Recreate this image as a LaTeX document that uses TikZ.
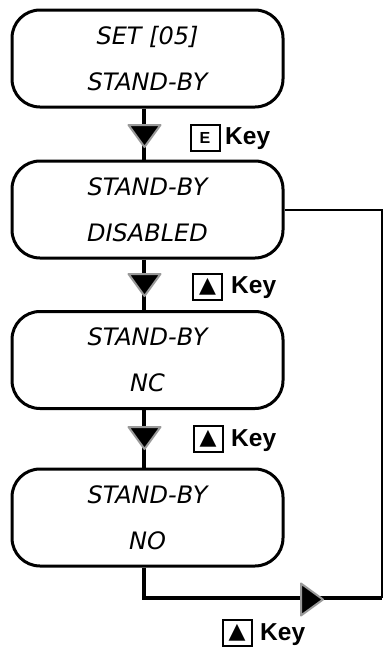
\documentclass[tikz,border=0pt]{standalone}
\usepackage{fontspec}
\setmainfont{Liberation Sans}
\newfontfamily\lcdfont{DejaVu Sans}
\newfontfamily\symfont{DejaVu Sans}
\begin{document}
\begin{tikzpicture}[x=1pt,y=-1pt,
  lcdbox/.style={draw, line width=3pt, rounded corners=28pt, minimum width=271pt, minimum height=97pt,
    align=center, inner sep=0pt, font=\lcdfont\itshape\fontsize{24}{46}\selectfont},
  conn/.style={line width=3.5pt},
  thin conn/.style={line width=2pt},
  keyicon/.style={draw, line width=2pt, minimum width=29pt, minimum height=26pt, inner sep=0pt},
  keytext/.style={font=\bfseries\fontsize{24.5}{24.5}\selectfont, inner sep=0pt, anchor=west},
  trifill/.style={fill=black, draw=black!40, line width=2pt, line join=round},
  pics/downtri/.style={code={\path[trifill] (-16,-11) -- (16,-11) -- (0,11) -- cycle;}},
  pics/righttri/.style={code={\path[trifill] (-11,-16) -- (11,0) -- (-11,16) -- cycle;}},
]
\useasboundingbox (0,0) rectangle (384,649);

\node[lcdbox] (b1) at (147.5,58.5) {SET [05]\\STAND-BY};
\node[lcdbox] (b2) at (147.5,209.5) {STAND-BY\\DISABLED};
\node[lcdbox] (b3) at (147.5,360) {STAND-BY\\NC};
\node[lcdbox] (b4) at (147.5,517.5) {STAND-BY\\NO};

\coordinate (c1) at (382,598);

\draw[conn] (b1.south -| 144,0) -- (b2.north -| 144,0);
\draw[conn] (b2.south -| 144,0) -- (b3.north -| 144,0);
\draw[conn] (b3.south -| 144,0) -- (b4.north -| 144,0);
\draw[conn] (b4.south -| 144,0) |- (c1);
\draw[thin conn] (c1) |- (b2.east);

\pic at (144.5,136) {downtri};
\pic at (144.5,285) {downtri};
\pic at (144.5,438) {downtri};
\pic at (312,599.5) {righttri};

\node[keyicon, font=\bfseries\fontsize{16}{16}\selectfont] (k1) at (205,137.5) {E};
\node[keytext] (t1) at (225,139) {Key};
\node[keyicon, font=\symfont\fontsize{22}{22}\selectfont] (k2) at (207.5,286.5) {▲};
\node[keytext] (t2) at (231,288) {Key};
\node[keyicon, font=\symfont\fontsize{22}{22}\selectfont] (k3) at (208,439) {▲};
\node[keytext] (t3) at (231,441) {Key};
\node[keyicon, font=\symfont\fontsize{22}{22}\selectfont] (k4) at (237,633) {▲};
\node[keytext] (t4) at (260,635) {Key};
\end{tikzpicture}
\end{document}
